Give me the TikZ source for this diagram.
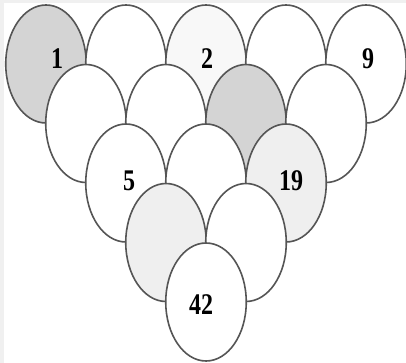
\documentclass[tikz,border=0pt]{standalone}
\usepackage{fontspec}
\setmainfont{Liberation Serif}
\usetikzlibrary{shapes.geometric}
\definecolor{edge}{HTML}{555555}
\definecolor{darkfill}{HTML}{D4D4D4}
\definecolor{lightfill}{HTML}{EFEFEF}
\definecolor{palefill}{HTML}{F8F8F8}
\definecolor{frame}{HTML}{F0F0F0}
\tikzset{
  egg/.style={ellipse, draw=edge, line width=1.6pt, fill=white,
    minimum width=80.5pt, minimum height=118pt, inner sep=0pt},
  num/.style={font=\fontsize{30}{30}\selectfont\bfseries, inner sep=0pt,
    xscale=0.8, transform shape}
}
\begin{document}
\begin{tikzpicture}[x=1pt,y=-1pt]
\useasboundingbox (0,0) rectangle (406,363);
\fill[white] (0,0) rectangle (406,363);
\fill[frame] (0,0) rectangle (4,363);
\fill[frame] (0,0) rectangle (406,3);
% row 1
\node[egg, fill=darkfill] (a1) at (46,64) {};
\node[egg] (a2) at (126,64) {};
\node[egg, fill=palefill] (a3) at (206,64) {};
\node[egg] (a4) at (286,64) {};
\node[egg] (a5) at (366,64) {};
% row 2
\node[egg] (b1) at (86,123.5) {};
\node[egg] (b2) at (166,123.5) {};
\node[egg, fill=darkfill] (b3) at (246,123.5) {};
\node[egg] (b4) at (326,123.5) {};
% row 3
\node[egg] (c1) at (126,183) {};
\node[egg] (c2) at (206,183) {};
\node[egg, fill=lightfill] (c3) at (286,183) {};
% row 4
\node[egg, fill=lightfill] (d1) at (166,242.5) {};
\node[egg] (d2) at (246,242.5) {};
% row 5
\node[egg] (e1) at (206,302) {};
% labels
\node[num] (l1) at (57,59) {1};
\node[num] (l2) at (207,58.5) {2};
\node[num] (l9) at (368,58.5) {9};
\node[num] (l5) at (129,181) {5};
\node[num] (l19) at (291,181) {19};
\node[num] (l42) at (201,305) {42};
\end{tikzpicture}
\end{document}
